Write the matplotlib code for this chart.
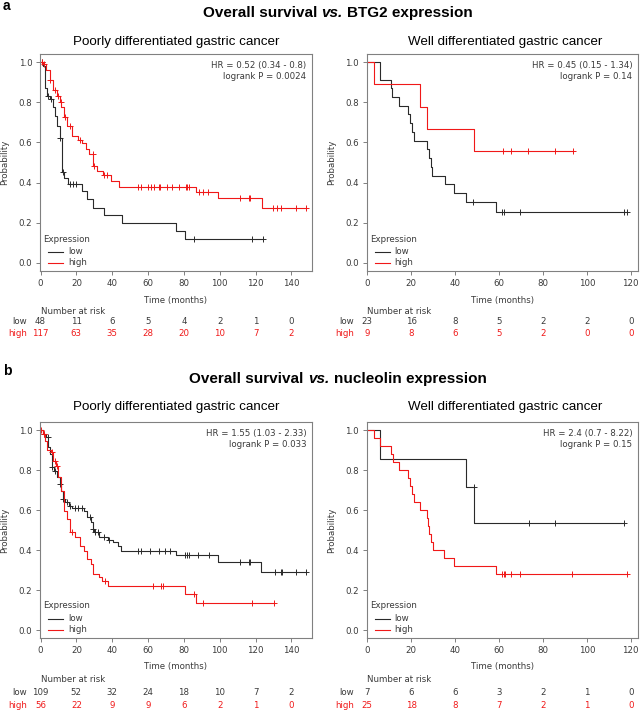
import matplotlib.pyplot as plt
import matplotlib.offsetbox as obox
import numpy as np

plt.rcParams['font.family'] = ['DejaVu Sans']

RED = '#f01818'
DARK = '#2a2a2a'
GREY = '#808080'
TXT = '#3a3a3a'
TITLE_FONT = ['Liberation Sans', 'DejaVu Sans']
W, H = 640, 713

# ---- a: BTG2, poorly differentiated
a1_low_t = [1.2, 2.5, 3.8, 5.5, 6.8, 8.1, 9.1, 10.6, 11.9, 12.9, 15.5, 23.3, 26.1, 29.0, 35.2, 45.5, 75.4, 80.7]
a1_low_s = [0.98, 0.87, 0.83, 0.815, 0.775, 0.733, 0.683, 0.62, 0.453, 0.425, 0.395, 0.358, 0.317, 0.275, 0.237, 0.197, 0.158, 0.117]
a1_low_cens = [0.6, 3.9, 5.7, 10.7, 12.4, 16.7, 18.2, 19.9, 85.6, 118.0, 124.2]
a1_high_t = [1.5, 3.0, 5.3, 7.2, 9.0, 10.6, 11.5, 12.9, 14.8, 17.6, 21.0, 23.3, 25.5, 27.0, 29.5, 31.5, 34.7, 39.4, 44.0, 86.7, 99.0, 123.7]
a1_high_s = [0.99, 0.96, 0.91, 0.86, 0.83, 0.80, 0.775, 0.725, 0.68, 0.633, 0.61, 0.595, 0.565, 0.54, 0.483, 0.46, 0.437, 0.408, 0.38, 0.355, 0.322, 0.275]
a1_high_cens = [0.8, 2.2, 5.5, 8.0, 9.5, 11.2, 13.5, 16.5, 22.0, 29.0, 29.8, 35.5, 37.0,
                54.5, 56.1, 59.8, 61.7, 63.1, 66.3, 66.9, 70.6, 73.5, 77.3, 81.1, 82.0, 83.0,
                88.5, 90.5, 93.5, 111.4, 116.1, 117.0, 129.9, 131.8, 134.1, 142.6, 148.3]
a1_risk_low = [48, 11, 6, 5, 4, 2, 1, 0]
a1_risk_high = [117, 63, 35, 28, 20, 10, 7, 2]
a1_hr = ['HR = 0.52 (0.34 - 0.8)', 'logrank P = 0.0024']

# ---- a: BTG2, well differentiated
a2_low_t = [5.6, 10.6, 11.4, 14.4, 18.6, 19.4, 20.2, 21.2, 27.3, 28.0, 28.8, 29.5, 35.2, 39.7, 45.0, 58.8]
a2_low_s = [0.913, 0.870, 0.826, 0.783, 0.739, 0.696, 0.652, 0.609, 0.565, 0.522, 0.478, 0.435, 0.391, 0.348, 0.304, 0.253]
a2_low_cens = [48.2, 61.4, 62.1, 69.4, 116.7, 118.2]
a2_high_t = [3.0, 23.8, 27.3, 48.8]
a2_high_s = [0.889, 0.778, 0.667, 0.556]
a2_high_cens = [61.8, 65.6, 73.2, 85.3, 93.9]
a2_risk_low = [23, 16, 8, 5, 2, 2, 0]
a2_risk_high = [9, 8, 6, 5, 2, 0, 0]
a2_hr = ['HR = 0.45 (0.15 - 1.34)', 'logrank P = 0.14']

# ---- b: nucleolin, poorly differentiated
b1_low_t = [1.5, 3.0, 4.4, 5.3, 6.25, 7.6, 9.1, 10.6, 11.4, 12.3, 13.8, 15.7, 17.6, 24.2, 26.1, 28.0, 29.0, 29.9, 32.8, 37.5, 40.3, 43.2, 45.1, 75.4, 99.0, 123.3]
b1_low_s = [0.98, 0.963, 0.913, 0.88, 0.813, 0.797, 0.763, 0.73, 0.697, 0.655, 0.638, 0.622, 0.61, 0.597, 0.563, 0.538, 0.505, 0.488, 0.463, 0.45, 0.438, 0.42, 0.397, 0.375, 0.338, 0.288]
b1_low_cens = [2.0, 4.0, 6.5, 8.0, 11.0, 12.8, 14.5, 16.5, 19.0, 21.0, 23.0, 27.5, 29.2, 30.5, 32.0, 35.5, 38.0,
               54.5, 56.0, 61.2, 65.9, 69.3, 72.5, 80.7, 82.0, 83.0, 88.0, 93.8, 111.4, 116.1, 117.0,
               130.7, 134.1, 135.0, 142.6, 148.3]
b1_high_t = [1.1, 2.5, 3.8, 5.7, 7.2, 8.7, 10.0, 11.4, 12.9, 14.8, 16.7, 19.5, 22.3, 24.2, 25.8, 28.0, 29.0, 32.8, 34.1, 37.5, 80.7, 86.7]
b1_high_s = [0.98, 0.947, 0.90, 0.888, 0.847, 0.822, 0.763, 0.697, 0.597, 0.555, 0.488, 0.463, 0.422, 0.397, 0.355, 0.33, 0.28, 0.263, 0.247, 0.218, 0.18, 0.135]
b1_high_cens = [0.5, 2.0, 6.5, 8.0, 9.0, 17.5, 36.0, 63.0, 67.4, 68.2, 85.8, 90.5, 118.0, 130.3]
b1_risk_low = [109, 52, 32, 24, 18, 10, 7, 2]
b1_risk_high = [56, 22, 9, 9, 6, 2, 1, 0]
b1_hr = ['HR = 1.55 (1.03 - 2.33)', 'logrank P = 0.033']

# ---- b: nucleolin, well differentiated
b2_low_t = [5.6, 45.0, 48.8]
b2_low_s = [0.857, 0.714, 0.536]
b2_low_cens = [48.5, 73.5, 85.3, 116.7]
b2_high_t = [3.0, 5.8, 10.6, 11.8, 14.4, 18.6, 19.4, 20.2, 21.2, 23.8, 27.0, 27.6, 28.3, 29.1, 30.0, 34.8, 39.7, 58.8]
b2_high_s = [0.96, 0.92, 0.88, 0.84, 0.80, 0.76, 0.72, 0.68, 0.64, 0.60, 0.56, 0.52, 0.48, 0.44, 0.40, 0.36, 0.32, 0.28]
b2_high_cens = [61.4, 62.1, 62.6, 65.6, 69.4, 93.2, 118.5]
b2_risk_low = [7, 6, 6, 3, 2, 1, 0]
b2_risk_high = [25, 18, 8, 7, 2, 1, 0]
b2_hr = ['HR = 2.4 (0.7 - 8.22)', 'logrank P = 0.15']

ticks_poor = [0, 20, 40, 60, 80, 100, 120, 140]
ticks_well = [0, 20, 40, 60, 80, 100, 120]

fig = plt.figure(figsize=(W / 100, H / 100), dpi=100)


def px_axes(left, top, right, bottom):
    return fig.add_axes([left / W, 1 - bottom / H, (right - left) / W, (bottom - top) / H])


def km(ax, t, s, cens, color):
    end = max(max(t), max(cens))
    tt = np.r_[0.0, t, end]
    ss = np.r_[1.0, s, s[-1]]
    ax.step(tt, ss, where='post', color=color, lw=0.8)
    idx = np.searchsorted(tt, cens, side='right') - 1
    ax.plot(cens, ss[idx], '+', color=color, ms=4.5, mew=0.7)


def panel(box, xmax, xticks, low, high, risk_low, risk_high, hr, rows):
    ax = px_axes(*box)
    wpx, hpx = box[2] - box[0], box[3] - box[1]
    km(ax, *low, DARK)
    km(ax, *high, RED)
    ax.set_xlim(-0.3, xmax)
    ax.set_ylim(-0.04, 1.04)
    ax.set_xticks(xticks)
    ax.set_yticks([0, 0.2, 0.4, 0.6, 0.8, 1.0])
    ax.set_yticklabels(['0.0', '0.2', '0.4', '0.6', '0.8', '1.0'])
    for sp in ax.spines.values():
        sp.set_color(GREY)
        sp.set_linewidth(0.8)
    ax.tick_params(length=3, width=0.7, color=GREY, labelcolor=TXT, labelsize=6.2, pad=2.5)
    ax.set_xlabel('Time (months)', fontsize=6.2, color=TXT)
    ax.xaxis.set_label_coords(0.5, -29 / hpx)
    ax.xaxis.label.set_va('center')
    ax.set_ylabel('Probability', fontsize=6.2, color=TXT)
    ax.yaxis.set_label_coords(-31 / wpx, 0.5)

    # hazard ratio text
    ax.text(1 - 5.5 / wpx, 1 - 6 / hpx - 0.004, hr[0], transform=ax.transAxes, ha='right', va='top',
            fontsize=6.2, color=TXT)
    ax.text(1 - 5.5 / wpx, 1 - 17.5 / hpx - 0.004, hr[1], transform=ax.transAxes, ha='right', va='top',
            fontsize=6.2, color=TXT)

    # legend
    ax.text(3.5 / wpx, 32 / hpx, 'Expression', transform=ax.transAxes, ha='left', va='center',
            fontsize=6.2, color=TXT)
    for yy, lab, col in [(19.5 / hpx, 'low', DARK), (8.5 / hpx, 'high', RED)]:
        ax.plot([8 / wpx, 23 / wpx], [yy, yy], transform=ax.transAxes, color=col, lw=0.8, clip_on=False)
        ax.text(28 / wpx, yy, lab, transform=ax.transAxes, ha='left', va='center', fontsize=6.2, color=TXT)

    # number at risk table
    tr = ax.get_xaxis_transform()
    ax.text(0, -rows[0] / hpx, 'Number at risk', transform=tr, ha='left', va='center', fontsize=6.2, color=TXT)
    ax.text(-13 / wpx, -rows[1] / hpx, 'low', transform=ax.transAxes, ha='right', va='center',
            fontsize=6.2, color=TXT)
    ax.text(-13 / wpx, -rows[2] / hpx, 'high', transform=ax.transAxes, ha='right', va='center',
            fontsize=6.2, color=RED)
    for xt, nl, nh in zip(xticks, risk_low, risk_high):
        ax.text(xt, -rows[1] / hpx, str(nl), transform=tr, ha='center', va='center', fontsize=6.2, color=TXT)
        ax.text(xt, -rows[2] / hpx, str(nh), transform=tr, ha='center', va='center', fontsize=6.2, color=RED)
    return ax


def fig_text(x, y, s, **kw):
    fig.text(x / W, 1 - y / H, s, family=TITLE_FONT, ha='center', va='center', **kw)


def big_title(y, gene):
    props = dict(fontsize=11, fontweight='bold', family=TITLE_FONT, color='black')
    parts = [obox.TextArea('Overall survival', textprops=props),
             obox.TextArea('vs.', textprops=dict(props, fontstyle='italic')),
             obox.TextArea(gene + ' expression', textprops=props)]
    pack = obox.HPacker(children=parts, align='baseline', pad=0, sep=3.1)
    box = obox.AnchoredOffsetbox(loc='center', child=pack, pad=0, borderpad=0, frameon=False,
                                 bbox_to_anchor=(338 / W, 1 - y / H), bbox_transform=fig.transFigure)
    fig.add_artist(box)


rows_a = (40.7, 50.7, 63)
rows_b = (42, 54.7, 68)

# panel a
fig.text(3 / W, 1 - 6 / H, 'a', family=TITLE_FONT, fontsize=10, fontweight='bold', ha='left', va='center')
big_title(13, 'BTG2')
fig_text(176, 42, 'Poorly differentiated gastric cancer', fontsize=9.6)
fig_text(505, 42, 'Well differentiated gastric cancer', fontsize=9.6)
panel((40, 54, 312, 271), 151.5, ticks_poor,
      (a1_low_t, a1_low_s, a1_low_cens), (a1_high_t, a1_high_s, a1_high_cens),
      a1_risk_low, a1_risk_high, a1_hr, rows_a)
panel((366.7, 54, 638, 271), 123.3, ticks_well,
      (a2_low_t, a2_low_s, a2_low_cens), (a2_high_t, a2_high_s, a2_high_cens),
      a2_risk_low, a2_risk_high, a2_hr, rows_a)

# panel b
fig.text(3 / W, 1 - 371 / H, 'b', family=TITLE_FONT, fontsize=10, fontweight='bold', ha='left', va='center')
big_title(379, 'nucleolin')
fig_text(176, 407, 'Poorly differentiated gastric cancer', fontsize=9.6)
fig_text(505, 407, 'Well differentiated gastric cancer', fontsize=9.6)
panel((40, 422, 312, 638), 151.5, ticks_poor,
      (b1_low_t, b1_low_s, b1_low_cens), (b1_high_t, b1_high_s, b1_high_cens),
      b1_risk_low, b1_risk_high, b1_hr, rows_b)
panel((366.7, 422, 638, 638), 123.3, ticks_well,
      (b2_low_t, b2_low_s, b2_low_cens), (b2_high_t, b2_high_s, b2_high_cens),
      b2_risk_low, b2_risk_high, b2_hr, rows_b)

fig.savefig('out.png', dpi=100)
